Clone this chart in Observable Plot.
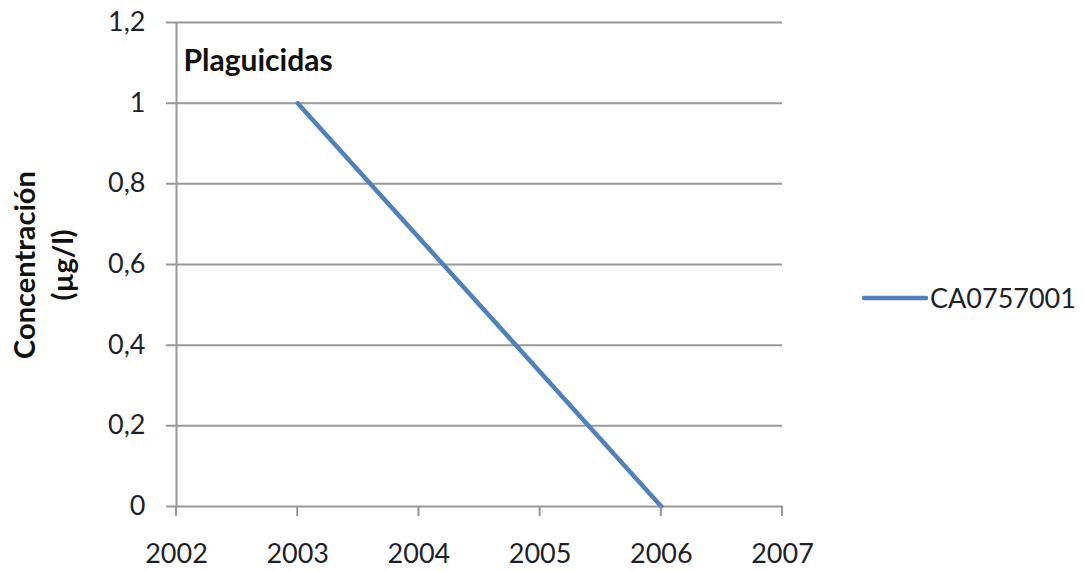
<!DOCTYPE html>
<html>
<head>
<meta charset="utf-8">
<script src="https://cdn.jsdelivr.net/npm/d3@7"></script>
<script src="https://cdn.jsdelivr.net/npm/@observablehq/plot@0.6"></script>
<style>
  html, body { margin: 0; padding: 0; background: #fff; }
  #chart svg { display: block; }
</style>
</head>
<body>
<div id="chart"></div>
<script>
// Pesticide concentration at station CA0757001
const years = [2003, 2006];
const values = [1, 0];
const seriesName = "CA0757001";
const xTicks = [2002, 2003, 2004, 2005, 2006, 2007];
const yTicks = [0, 0.2, 0.4, 0.6, 0.8, 1, 1.2];
const yTickLabels = ["0", "0,2", "0,4", "0,6", "0,8", "1", "1,2"];
const chartTitle = "Plaguicidas";
const yLabelLines = ["Concentración", "(µg/l)"];

const data = years.map((y, i) => ({year: y, value: values[i]}));

const W = 1085, H = 571;
const mLeft = 176, mRight = W - 782, mTop = 22, mBottom = H - 506;
const grid = "#989898";
const blue = "#4F81BD";
const ink = "#1f1f2a";
const font = "Lato, 'Open Sans', sans-serif";

const svg = Plot.plot({
  width: W,
  height: H,
  marginLeft: mLeft,
  marginRight: mRight,
  marginTop: mTop,
  marginBottom: mBottom,
  style: {fontFamily: font, fontSize: "27px", color: ink, background: "#fff"},
  x: {domain: [2002, 2007], axis: null},
  y: {domain: [0, 1.2], axis: null},
  marks: [
    // horizontal gridlines with a short outward tick on the left
    Plot.ruleY(yTicks, {stroke: grid, strokeWidth: 2, insetLeft: -10}),
    // vertical axis line
    Plot.ruleX([2002], {y1: 0, y2: 1.2, stroke: grid, strokeWidth: 2}),
    // y tick labels
    Plot.text(yTicks, {
      x: 2002, y: d => d, text: (d, i) => yTickLabels[i],
      textAnchor: "end", dx: -31, fontSize: 27, fill: ink
    }),
    // x tick labels
    Plot.text(xTicks, {
      x: d => d, y: 0, text: d => String(d),
      dy: 48, fontSize: 27, fill: ink
    }),
    Plot.line(data, {x: "year", y: "value", stroke: blue, strokeWidth: 4.5}),
    Plot.text([chartTitle], {
      frameAnchor: "top-left", dx: 7, dy: 27, fontWeight: "bold",
      fontSize: 30, fill: "#111"
    })
  ]
});

const sx = svg.scale("x"), sy = svg.scale("y");

// tick marks below the x axis
const tickG = d3.select(svg).append("g").attr("stroke", grid).attr("stroke-width", 2);
xTicks.forEach(t => {
  tickG.append("line")
    .attr("x1", sx.apply(t)).attr("x2", sx.apply(t))
    .attr("y1", sy.apply(0)).attr("y2", sy.apply(0) + 10);
});

// rotated y-axis title on two lines
const yMid = 265;
const lab = d3.select(svg).append("g")
  .attr("font-family", font).attr("font-weight", "bold")
  .attr("font-size", 29).attr("fill", "#111").attr("text-anchor", "middle");
[35, 73].forEach((bx, i) => {
  lab.append("text")
    .attr("transform", `translate(${bx},${yMid}) rotate(-90)`)
    .text(yLabelLines[i]);
});

// legend
const leg = d3.select(svg).append("g");
leg.append("line")
  .attr("x1", 864).attr("x2", 926).attr("y1", 298).attr("y2", 298)
  .attr("stroke", blue).attr("stroke-width", 4.5).attr("stroke-linecap", "round");
leg.append("text")
  .attr("x", 930).attr("y", 298).attr("dy", "0.36em")
  .attr("text-anchor", "start")
  .attr("font-family", font).attr("font-size", 27).attr("fill", ink)
  .text(seriesName);

document.getElementById("chart").appendChild(svg);
</script>
</body>
</html>
